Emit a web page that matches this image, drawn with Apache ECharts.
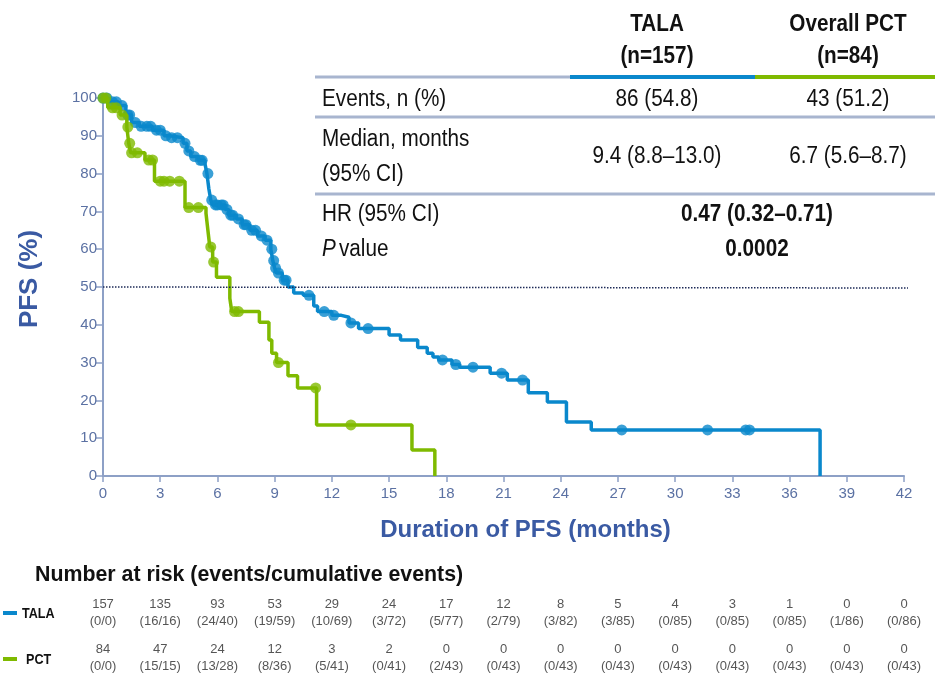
<!DOCTYPE html>
<html><head><meta charset="utf-8">
<script src="https://cdn.jsdelivr.net/npm/echarts@6/dist/echarts.min.js"></script>
<style>html,body{margin:0;padding:0;background:#fff}#c{width:935px;height:687px}</style>
</head><body><div id="c"></div>
<script>
// ---- Kaplan-Meier step data (months, % PFS) ----
const talaTime = [0, 0.3, 0.8, 1.2, 1.5, 1.9, 2.6, 3.2, 3.5, 4.2, 4.4, 4.6, 5.0, 5.35, 5.45, 5.55, 5.65, 5.75, 6.4, 6.6, 7.0, 7.3, 7.7, 8.1, 8.5, 8.8, 8.9, 9.0, 9.1, 9.4, 9.7, 10.0, 10.5, 11.05, 11.25, 12.0, 12.5, 12.9, 13.4, 15.0, 15.6, 16.5, 17.0, 17.3, 17.6, 18.3, 18.7, 20.3, 21.2, 22.3, 23.3, 24.3, 25.6, 37.6];
const talaSurv = [100, 99, 98, 95.5, 93.5, 92.5, 91.5, 90, 89.5, 88, 86, 84.5, 83.5, 82.5, 80, 76, 73, 71.7, 70.5, 69, 68, 66.5, 65, 63.5, 62.4, 60, 57, 55, 53.7, 51.8, 50, 48.4, 47.8, 45, 43.5, 42.5, 42, 40.5, 39, 37.3, 36, 34, 32.5, 31.5, 30.7, 29.5, 28.8, 27.2, 25.4, 22, 19.6, 14.3, 12.2, 0];
const talaCensor = [0, 0.2, 0.5, 0.7, 1.0, 1.3, 1.4, 1.7, 2.0, 2.3, 2.5, 2.8, 3.0, 3.3, 3.6, 3.9, 4.3, 4.5, 4.8, 5.1, 5.2, 5.5, 5.7, 5.9, 6.0, 6.2, 6.3, 6.5, 6.7, 6.8, 7.1, 7.4, 7.5, 7.8, 8.0, 8.3, 8.6, 8.85, 8.95, 9.05, 9.2, 9.5, 9.6, 10.8, 11.6, 12.1, 13.0, 13.9, 17.8, 18.5, 19.4, 20.9, 22.0, 27.2, 31.7, 33.7, 33.9];

const pctTime = [0, 0.25, 0.9, 1.25, 1.35, 1.45, 2.2, 2.7, 4.3, 5.4, 5.5, 5.6, 5.75, 5.95, 6.65, 6.75, 8.2, 8.7, 8.85, 9.1, 9.7, 10.2, 11.2, 16.2, 17.4];
const pctSurv = [100, 97.4, 95.5, 92.3, 88, 85.5, 83.6, 78, 71, 69.5, 65, 60.6, 56.6, 52.6, 47, 43.5, 40.7, 36, 32.5, 30, 26.5, 23.3, 13.5, 6.9, 0];
const pctCensor = [0, 0.15, 0.5, 0.7, 1.0, 1.3, 1.4, 1.5, 1.8, 2.4, 2.6, 3.0, 3.2, 3.5, 4.0, 4.5, 5.0, 5.65, 5.8, 6.9, 7.1, 9.2, 11.15, 13.0];

// ---- axis ticks ----
const xTicks = [0, 3, 6, 9, 12, 15, 18, 21, 24, 27, 30, 33, 36, 39, 42];
const yTicks = [0, 10, 20, 30, 40, 50, 60, 70, 80, 90, 100];

// ---- number at risk ----
const riskTimes = [0, 3, 6, 9, 12, 15, 18, 21, 24, 27, 30, 33, 36, 39, 42];
const talaRisk = [157, 135, 93, 53, 29, 24, 17, 12, 8, 5, 4, 3, 1, 0, 0];
const talaEvents = [0, 16, 24, 19, 10, 3, 5, 2, 3, 3, 0, 0, 0, 1, 0];
const talaCum = [0, 16, 40, 59, 69, 72, 77, 79, 82, 85, 85, 85, 85, 86, 86];
const pctRisk = [84, 47, 24, 12, 3, 2, 0, 0, 0, 0, 0, 0, 0, 0, 0];
const pctEvents = [0, 15, 13, 8, 5, 0, 2, 0, 0, 0, 0, 0, 0, 0, 0];
const pctCum = [0, 15, 28, 36, 41, 41, 43, 43, 43, 43, 43, 43, 43, 43, 43];

// ---- summary table text ----
const armNames = ['TALA', 'Overall PCT'];
const armN = ['(n=157)', '(n=84)'];
const eventsTxt = ['86 (54.8)', '43 (51.2)'];
const medianTxt = ['9.4 (8.8\u201313.0)', '6.7 (5.6\u20138.7)'];
const hrTxt = '0.47 (0.32\u20130.71)';
const pTxt = '0.0002';

const BLUE = '#0a88cc', GREEN = '#7fba00', AXIS = '#8da0c6', LBL = '#5b71a3', TITLE = '#3a5aa3';
const FONT = '"Liberation Sans", Arial, sans-serif';

function survAt(times, surv, t) {
  let v = surv[0];
  for (let i = 0; i < times.length; i++) { if (times[i] <= t) v = surv[i]; else break; }
  return v;
}
const talaLine = talaTime.map((t, i) => [t, talaSurv[i]]);
const pctLine = pctTime.map((t, i) => [t, pctSurv[i]]);
const talaMarks = talaCensor.map(t => [t, survAt(talaTime, talaSurv, t)]);
const pctMarks = pctCensor.map(t => [t, survAt(pctTime, pctSurv, t)]);

const riskData = [];
riskTimes.forEach((t, i) => {
  riskData.push({value: [t, 'TALA'], txt: talaRisk[i] + '\n(' + talaEvents[i] + '/' + talaCum[i] + ')'});
  riskData.push({value: [t, 'PCT'], txt: pctRisk[i] + '\n(' + pctEvents[i] + '/' + pctCum[i] + ')'});
});

const chart = echarts.init(document.getElementById('c'), null, {renderer: 'canvas'});

const col1 = 657, col2 = 848, colMid = 757, tblL = 322;
const SX = 0.9;
function txt(x, y, s, font, align, fill, sx) {
  return {type: 'text', x: x, y: y, scaleX: sx || SX, silent: true,
    style: {text: s, font: font, textAlign: align || 'center', textVerticalAlign: 'middle', fill: fill || '#111'}};
}
function hline(x1, x2, y, color, w) {
  return {type: 'line', silent: true, shape: {x1: x1, y1: y, x2: x2, y2: y}, style: {stroke: color, lineWidth: w}};
}
const tf = '23px ' + FONT, tfb = 'bold 23px ' + FONT;
const graphics = [
  txt(col1, 25, armNames[0], tfb), txt(col2, 25, armNames[1], tfb),
  txt(col1, 57, armN[0], tfb), txt(col2, 57, armN[1], tfb),
  hline(315, 570, 77, '#a8b5cf', 3), hline(570, 755, 77, BLUE, 4), hline(755, 935, 77, GREEN, 4),
  txt(tblL, 100, 'Events, n (%)', tf, 'left'), txt(col1, 100, eventsTxt[0], tf), txt(col2, 100, eventsTxt[1], tf),
  hline(315, 935, 117, '#a8b5cf', 3),
  txt(tblL, 140, 'Median, months', tf, 'left'), txt(tblL, 175, '(95% CI)', tf, 'left'),
  txt(col1, 157, medianTxt[0], tf), txt(col2, 157, medianTxt[1], tf),
  hline(315, 935, 194, '#a8b5cf', 3),
  txt(tblL, 215, 'HR (95% CI)', tf, 'left'), txt(colMid, 215, hrTxt, tfb),
  txt(tblL, 250, 'P', 'italic 23px ' + FONT, 'left'),
  txt(tblL + 17, 250, 'value', tf, 'left'), txt(colMid, 250, pTxt, tfb),
  // number at risk header and legend
  txt(35, 575, 'Number at risk (events/cumulative events)', 'bold 22px ' + FONT, 'left', '#111', 0.97),
  hline(3, 17, 613, BLUE, 4), txt(22, 614, 'TALA', 'bold 14px ' + FONT, 'left', '#111', 0.9),
  hline(3, 17, 659, GREEN, 4), txt(26, 660, 'PCT', 'bold 14px ' + FONT, 'left', '#111', 0.9)
];

const option = {
  animation: false,
  backgroundColor: '#fff',
  graphic: graphics,
  grid: [
    {left: 103, right: 31, top: 98, bottom: 211, containLabel: false},
    {left: 103, right: 31, top: 590, height: 90, containLabel: false}
  ],
  xAxis: [
    {type: 'value', gridIndex: 0, min: 0, max: 42, interval: 3,
     name: 'Duration of PFS (months)', nameLocation: 'middle', nameGap: 42,
     nameTextStyle: {color: TITLE, fontSize: 24, fontWeight: 'bold', fontFamily: FONT, padding: [0, 0, 0, 44]},
     axisLine: {lineStyle: {color: AXIS, width: 2}},
     axisTick: {show: true, length: 6, lineStyle: {color: AXIS, width: 1.5}},
     axisLabel: {color: LBL, fontSize: 15, fontFamily: FONT, margin: 10},
     splitLine: {show: false}},
    {type: 'value', gridIndex: 1, min: 0, max: 42, show: false}
  ],
  yAxis: [
    {type: 'value', gridIndex: 0, min: 0, max: 100, interval: 10,
     name: 'PFS (%)', nameLocation: 'middle', nameGap: 60, nameRotate: 90,
     nameTextStyle: {color: TITLE, fontSize: 26, fontWeight: 'bold', fontFamily: FONT, padding: [0, 0, 0, 16]},
     axisLine: {show: true, lineStyle: {color: AXIS, width: 2}},
     axisTick: {show: true, length: 7, lineStyle: {color: AXIS, width: 1.5}},
     axisLabel: {color: LBL, fontSize: 15, fontFamily: FONT, margin: 6},
     splitLine: {show: false}},
    {type: 'category', gridIndex: 1, data: ['TALA', 'PCT'], inverse: true, show: false}
  ],
  series: [
    {type: 'line', name: 'TALA', xAxisIndex: 0, yAxisIndex: 0, step: 'end', data: talaLine,
     showSymbol: false, lineStyle: {color: BLUE, width: 3.5}, itemStyle: {color: BLUE}, z: 3,
     markLine: {silent: true, symbol: 'none', label: {show: false},
       lineStyle: {color: '#1d2a57', type: 'dotted', width: 1.5},
       data: [[{coord: [0, 50]}, {x: 908, y: 288}]]}},
    {type: 'scatter', xAxisIndex: 0, yAxisIndex: 0, data: talaMarks, symbol: 'circle', symbolSize: 11,
     itemStyle: {color: BLUE}, z: 3, silent: true},
    {type: 'line', name: 'PCT', xAxisIndex: 0, yAxisIndex: 0, step: 'end', data: pctLine,
     showSymbol: false, lineStyle: {color: GREEN, width: 3.5}, itemStyle: {color: GREEN}, z: 4},
    {type: 'scatter', xAxisIndex: 0, yAxisIndex: 0, data: pctMarks, symbol: 'circle', symbolSize: 11,
     itemStyle: {color: GREEN}, z: 4, silent: true},
    {type: 'scatter', xAxisIndex: 1, yAxisIndex: 1, data: riskData, symbolSize: 1,
     itemStyle: {color: 'rgba(0,0,0,0)'}, silent: true,
     label: {show: true, position: 'inside', color: '#2a2a2a', fontSize: 13, fontFamily: FONT, lineHeight: 17,
       formatter: p => p.data.txt}}
  ]
};
chart.setOption(option);
</script></body></html>
